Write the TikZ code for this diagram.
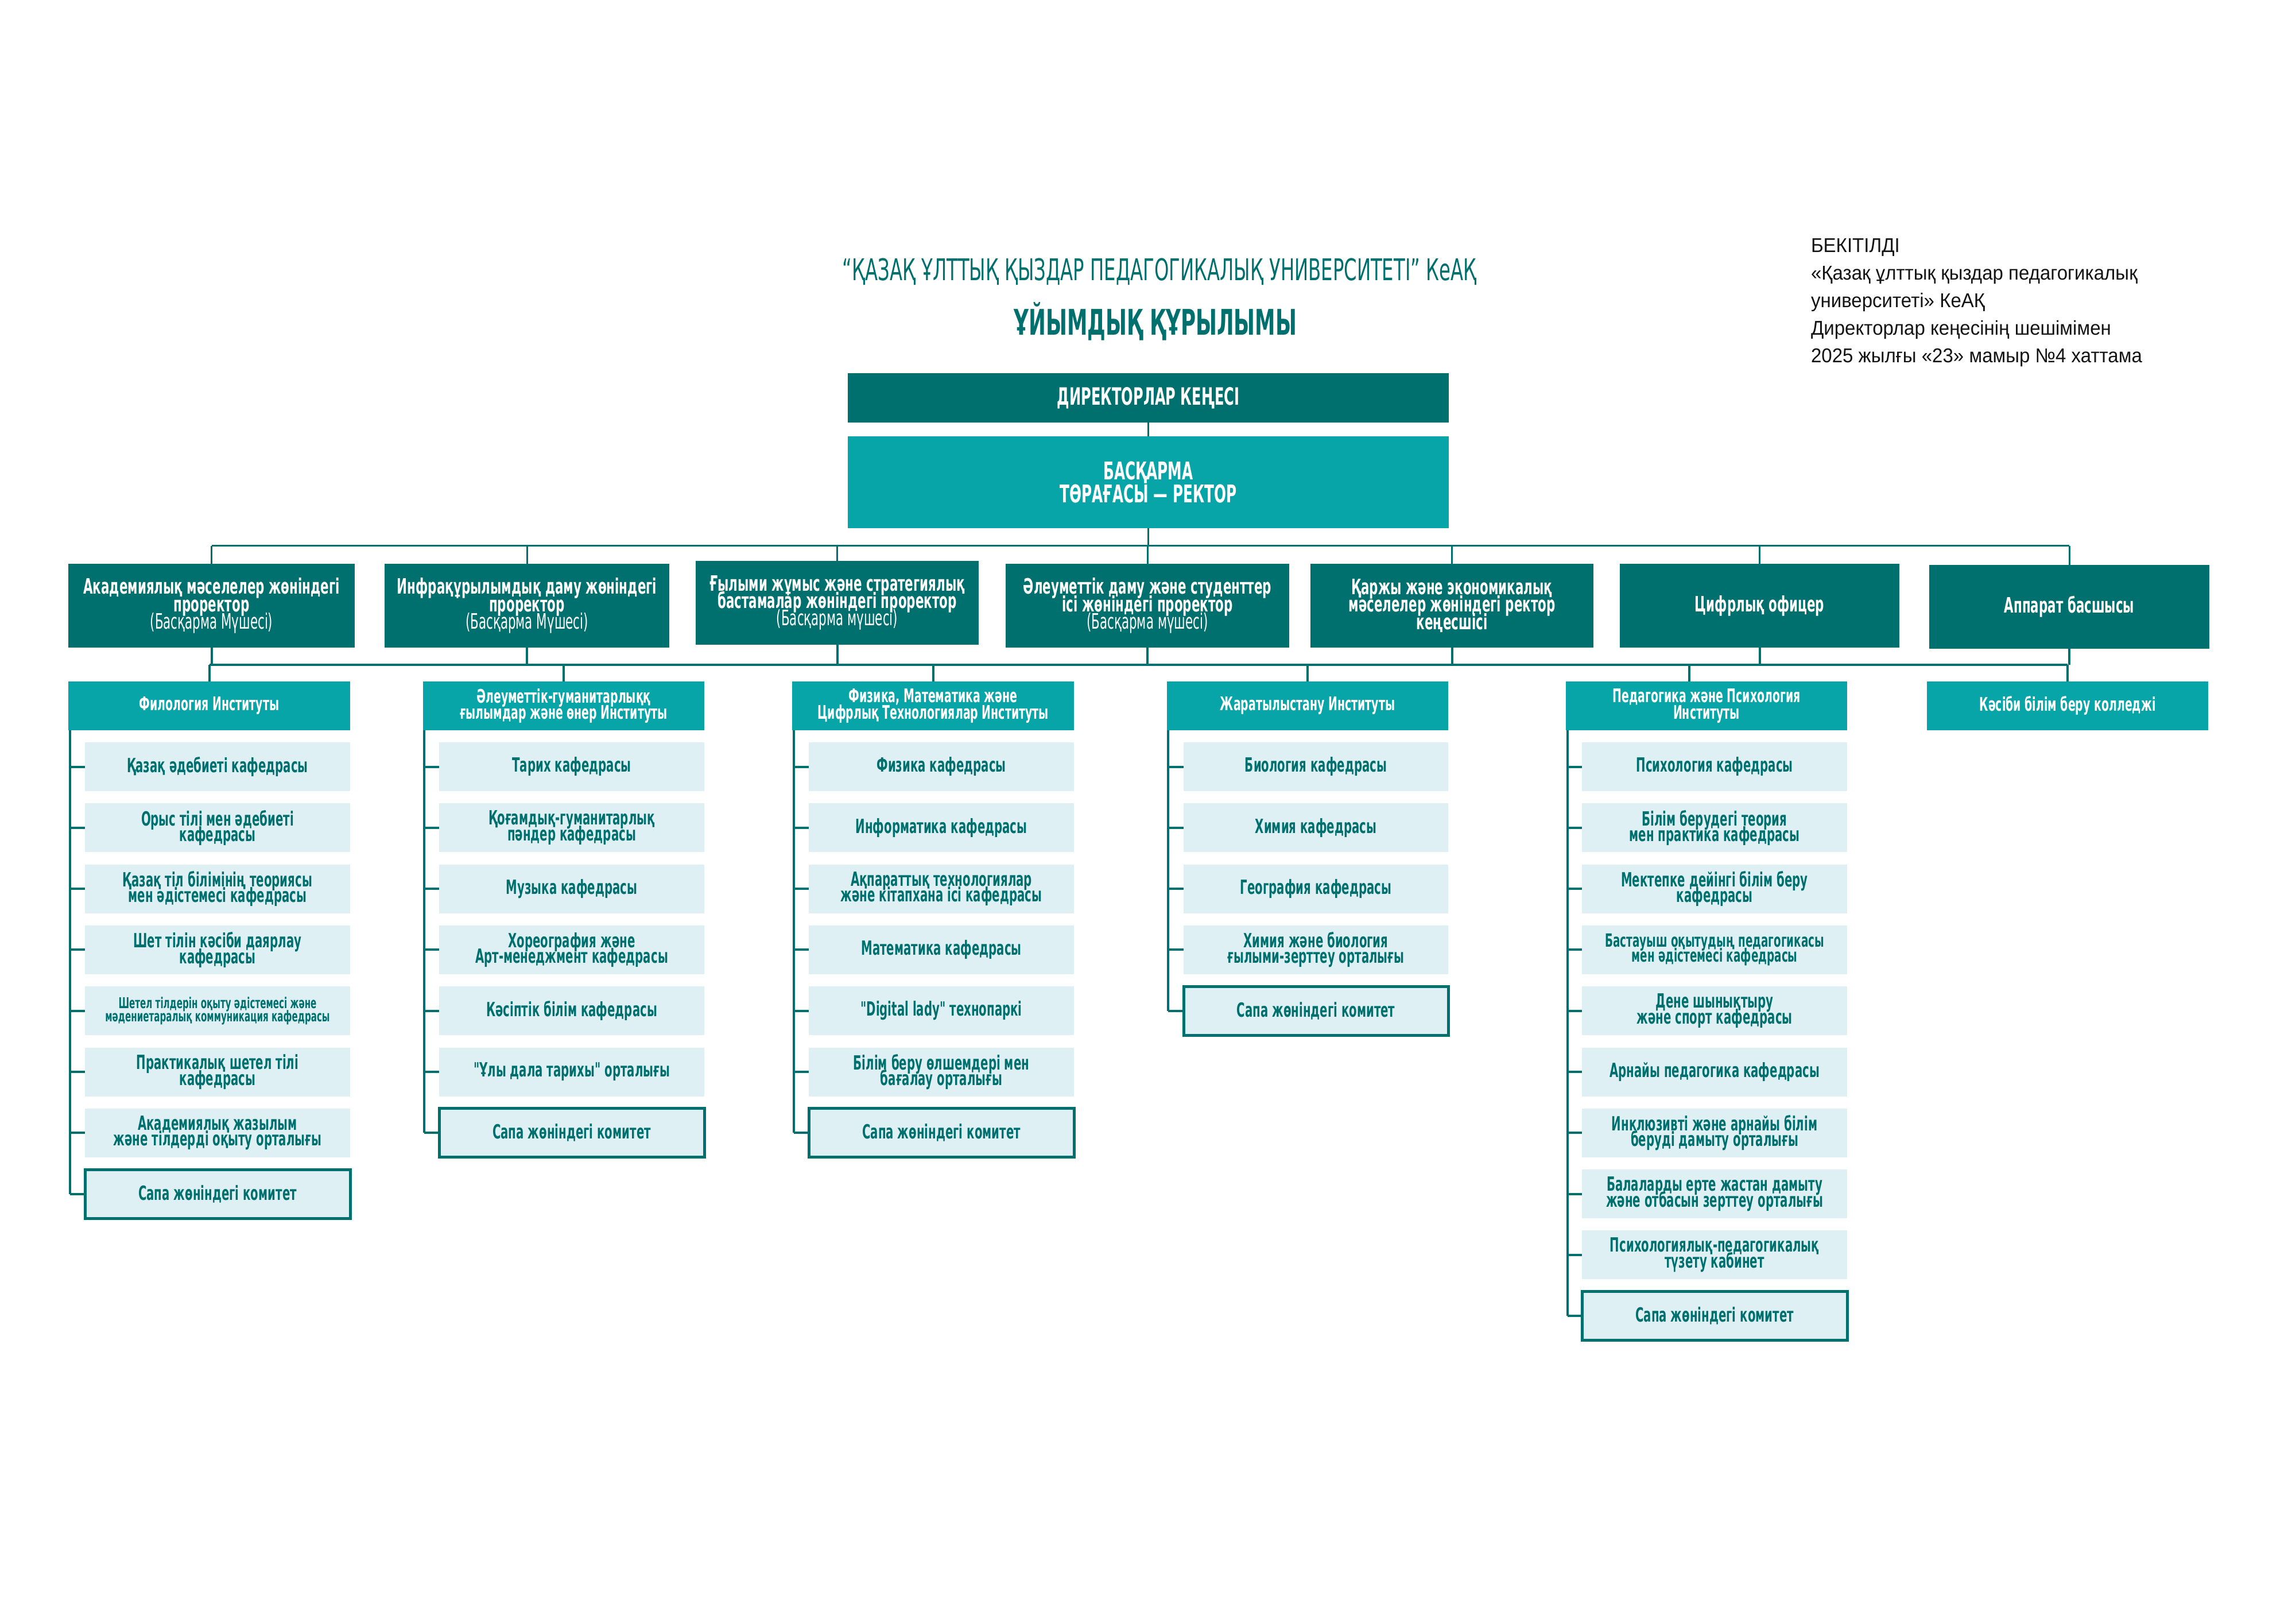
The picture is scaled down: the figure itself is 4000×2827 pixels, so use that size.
\documentclass[tikz,border=0pt]{standalone}
\usepackage{fontspec}
\newfontfamily\cnd[FakeStretch=0.58]{DejaVu Sans}
\newfontfamily\cndr[FakeStretch=0.62]{DejaVu Sans}
\newfontfamily\notefont[FakeStretch=0.95]{Liberation Sans}
\definecolor{dteal}{RGB}{0,112,110}
\definecolor{mteal}{RGB}{7,164,168}
\definecolor{lfill}{RGB}{222,240,244}
\definecolor{notec}{RGB}{20,20,20}
\newdimen\pxu \pxu=0.07425mm
\newcommand\tightlines{\lineskiplimit=-100pt\lineskip=0pt}
\def\cL{0}\def\cR{0}\def\cc{c1}
% department node: [style] name row text
\newcommand\depn[4][]{%
  \pgfmathsetmacro\dyc{1293+106.3*(#3-1)+42.5}%
  \pgfmathsetmacro\dxc{(\cL+\cR)/2}%
  \pgfmathsetmacro\dww{\cR-\cL}%
  \node[dep,minimum width=\dww*\pxu,#1] (#2) at (\dxc,\dyc) {#4};%
  \draw[conn] (#2.west) -- (#2.west -| \cc);%
}
\begin{document}
\begin{tikzpicture}[x=0.07425mm,y=-0.07425mm,
  conn/.style={draw=dteal,line width=4*\pxu},
  thinconn/.style={draw=dteal,line width=3*\pxu},
  boxbase/.style={rectangle,inner sep=0pt,outer sep=0pt,align=center},
  darkbox/.style={boxbase,fill=dteal,text=white},
  midbox/.style={boxbase,fill=mteal,text=white},
  vice/.style={darkbox,minimum height=146*\pxu,font=\cnd\bfseries\fontsize{7.8}{6.4}\selectfont\tightlines},
  inst/.style={midbox,minimum height=85*\pxu,font=\cnd\bfseries\fontsize{6.9}{6.0}\selectfont\tightlines},
  dep/.style={boxbase,fill=lfill,text=dteal,minimum height=85*\pxu,font=\cnd\bfseries\fontsize{7.2}{5.8}\selectfont\tightlines},
  sapa/.style={draw=dteal,line width=5*\pxu},
  smalltxt/.style={font=\cnd\bfseries\fontsize{5.5}{4.8}\selectfont\tightlines},
  midtxt/.style={font=\cnd\bfseries\fontsize{6.7}{5.6}\selectfont\tightlines},
  notetxt/.style={anchor=base west,inner sep=0pt,text=notec,font=\notefont\fontsize{7.35}{9}\selectfont}]
\path[use as bounding box,fill=white] (0,0) rectangle (4000,2827);

% titles
\node[anchor=base,inner sep=0pt,text=dteal,font=\cndr\fontsize{11}{11}\selectfont] (t1) at (2020,489) {“ҚАЗАҚ ҰЛТТЫҚ ҚЫЗДАР ПЕДАГОГИКАЛЫҚ УНИВЕРСИТЕТІ” КеАҚ};
\node[anchor=base,inner sep=0pt,text=dteal,font=\cnd\bfseries\fontsize{13}{13}\selectfont] (t2) at (2013,584) {ҰЙЫМДЫҚ ҚҰРЫЛЫМЫ};

% approval note
\node[notetxt] (n1) at (3154,440) {БЕКІТІЛДІ};
\node[notetxt] (n2) at (3154,488) {«Қазақ ұлттық қыздар педагогикалық};
\node[notetxt] (n3) at (3154,536) {университеті» КеАҚ};
\node[notetxt] (n4) at (3154,584) {Директорлар кеңесінің шешімімен};
\node[notetxt] (n5) at (3154,632) {2025 жылғы «23» мамыр №4 хаттама};

% top
\node[darkbox,minimum width=1047*\pxu,minimum height=86*\pxu,font=\cnd\bfseries\fontsize{8.8}{8.4}\selectfont] (dir) at (2000.5,693) {ДИРЕКТОРЛАР КЕҢЕСІ};
\node[midbox,minimum width=1047*\pxu,minimum height=160*\pxu,font=\cnd\bfseries\fontsize{9}{8.4}\selectfont\tightlines] (rect) at (2000.5,840) {БАСҚАРМА\\ТӨРАҒАСЫ — РЕКТОР};
\draw[thinconn] (dir.south) -- (rect.north);

% vice rectors
\node[vice,minimum width=499*\pxu] (v1) at (368.5,1055) {Академиялық мәселелер жөніндегі\\проректор\\{\mdseries (Басқарма Мүшесі)}};
\node[vice,minimum width=496*\pxu] (v2) at (918,1055) {Инфрақұрылымдық даму жөніндегі\\проректор\\{\mdseries (Басқарма Мүшесі)}};
\node[vice,minimum width=493*\pxu] (v3) at (1458.5,1050) {Ғылыми жұмыс және стратегиялық\\бастамалар жөніндегі проректор\\{\mdseries (Басқарма мүшесі)}};
\node[vice,minimum width=494*\pxu] (v4) at (1999,1055) {Әлеуметтік даму және студенттер\\ісі жөніндегі проректор\\{\mdseries (Басқарма мүшесі)}};
\node[vice,minimum width=493*\pxu] (v5) at (2529.5,1055) {Қаржы және экономикалық\\мәселелер жөніндегі ректор\\кеңесшісі};
\node[vice,minimum width=487*\pxu] (v6) at (3065.5,1055) {Цифрлық офицер};
\node[vice,minimum width=488*\pxu] (v7) at (3605,1057) {Аппарат басшысы};

\coordinate (busA) at (0,951);
\coordinate (busB) at (0,1158);
\draw[thinconn] (rect.south) -- (rect.south |- busA);
\draw[thinconn] (v1.north |- busA) -- (v7.north |- busA);
\foreach \v in {v1,v2,v3,v4,v5,v6,v7}{\draw[thinconn] (\v.north |- busA) -- (\v.north);}

% institutes
\node[inst,minimum width=491*\pxu] (i1) at (364.5,1229.5) {Филология Институты};
\node[inst,minimum width=490*\pxu] (i2) at (982,1229.5) {Әлеуметтік-гуманитарлыққ\\ғылымдар және өнер Институты};
\node[inst,minimum width=491*\pxu] (i3) at (1625.5,1229.5) {Физика, Математика және\\Цифрлық Технологиялар Институты};
\node[inst,minimum width=490*\pxu] (i4) at (2278,1229.5) {Жаратылыстану Институты};
\node[inst,minimum width=490*\pxu] (i5) at (2973,1229.5) {Педагогика және Психология\\Институты};
\node[inst,minimum width=490*\pxu] (i6) at (3602,1229.5) {Кәсіби білім беру колледжі};

\draw[conn] (i1.north |- busB) -- (i6.north |- busB);
\foreach \v in {v1,v2,v3,v4,v5,v6,v7}{\draw[conn] (\v.south) -- (\v.south |- busB);}
\foreach \i in {i1,i2,i3,i4,i6}{\draw[conn] (\i.north |- busB) -- (\i.north);}
\draw[conn] ([xshift=-30*\pxu]i5.north |- busB) -- ([xshift=-30*\pxu]i5.north);

\coordinate (c1) at (122,1272);
\coordinate (c2) at (739,1272);
\coordinate (c3) at (1383,1272);
\coordinate (c4) at (2035,1272);
\coordinate (c5) at (2731,1272);

% column 1
\def\cL{148}\def\cR{610}\def\cc{c1}
\depn{a1}{1}{Қазақ әдебиеті кафедрасы}
\depn{a2}{2}{Орыс тілі мен әдебиеті\\кафедрасы}
\depn{a3}{3}{Қазақ тіл білімінің теориясы\\мен әдістемесі кафедрасы}
\depn{a4}{4}{Шет тілін кәсіби даярлау\\кафедрасы}
\depn[smalltxt]{a5}{5}{Шетел тілдерін оқыту әдістемесі және\\мәдениетаралық коммуникация кафедрасы}
\depn{a6}{6}{Практикалық шетел тілі\\кафедрасы}
\depn{a7}{7}{Академиялық жазылым\\және тілдерді оқыту орталығы}
\depn[sapa]{a8}{8}{Сапа жөніндегі комитет}
\draw[conn] (i1.south -| c1) -- (a8.west -| c1);

% column 2
\def\cL{765}\def\cR{1227}\def\cc{c2}
\depn{b1}{1}{Тарих кафедрасы}
\depn{b2}{2}{Қоғамдық-гуманитарлық\\пәндер кафедрасы}
\depn{b3}{3}{Музыка кафедрасы}
\depn{b4}{4}{Хореография және\\Арт-менеджмент кафедрасы}
\depn{b5}{5}{Кәсіптік білім кафедрасы}
\depn{b6}{6}{"Ұлы дала тарихы" орталығы}
\depn[sapa]{b7}{7}{Сапа жөніндегі комитет}
\draw[conn] (i2.south -| c2) -- (b7.west -| c2);

% column 3
\def\cL{1409}\def\cR{1871}\def\cc{c3}
\depn{e1}{1}{Физика кафедрасы}
\depn{e2}{2}{Информатика кафедрасы}
\depn{e3}{3}{Ақпараттық технологиялар\\және кітапхана ісі кафедрасы}
\depn{e4}{4}{Математика кафедрасы}
\depn{e5}{5}{"Digital lady" технопаркі}
\depn{e6}{6}{Білім беру өлшемдері мен\\бағалау орталығы}
\depn[sapa]{e7}{7}{Сапа жөніндегі комитет}
\draw[conn] (i3.south -| c3) -- (e7.west -| c3);

% column 4
\def\cL{2062}\def\cR{2523}\def\cc{c4}
\depn{f1}{1}{Биология кафедрасы}
\depn{f2}{2}{Химия кафедрасы}
\depn{f3}{3}{География кафедрасы}
\depn{f4}{4}{Химия және биология\\ғылыми-зерттеу орталығы}
\depn[sapa]{f5}{5}{Сапа жөніндегі комитет}
\draw[conn] (i4.south -| c4) -- (f5.west -| c4);

% column 5
\def\cL{2756}\def\cR{3218}\def\cc{c5}
\depn{g1}{1}{Психология кафедрасы}
\depn{g2}{2}{Білім берудегі теория\\мен практика кафедрасы}
\depn{g3}{3}{Мектепке дейінгі білім беру\\кафедрасы}
\depn[midtxt]{g4}{4}{Бастауыш оқытудың педагогикасы\\мен әдістемесі кафедрасы}
\depn{g5}{5}{Дене шынықтыру\\және спорт кафедрасы}
\depn{g6}{6}{Арнайы педагогика кафедрасы}
\depn{g7}{7}{Инклюзивті және арнайы білім\\беруді дамыту орталығы}
\depn{g8}{8}{Балаларды ерте жастан дамыту\\және отбасын зерттеу орталығы}
\depn{g9}{9}{Психологиялық-педагогикалық\\түзету кабинет}
\depn[sapa]{g10}{10}{Сапа жөніндегі комитет}
\draw[conn] (i5.south -| c5) -- (g10.west -| c5);
\end{tikzpicture}
\end{document}
